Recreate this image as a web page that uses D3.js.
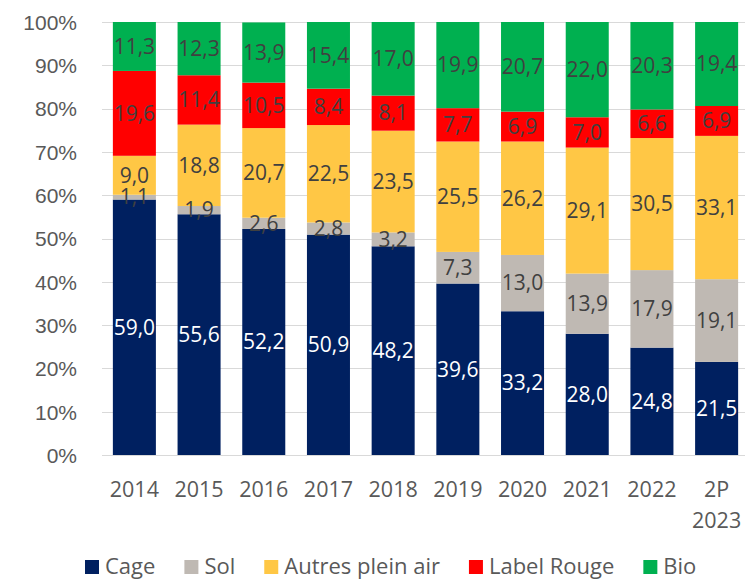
<!DOCTYPE html>
<html lang="fr">
<head>
  <meta charset="UTF-8">
  <title>Répartition des modes d'élevage</title>
  <script src="https://d3js.org/d3.v7.min.js"></script>
  <style>
    body { margin: 0; background: #fff; }
    svg { font-family: "Open Sans", "Noto Sans", sans-serif; }
    .grid line { stroke: #d9d9d9; stroke-width: 1; }
    .tick text { fill: #595959; }
  </style>
</head>
<body>
  <svg width="745" height="581"></svg>

  <script>
    // Data
    const years = ["2014", "2015", "2016", "2017", "2018", "2019", "2020", "2021", "2022", "2P 2023"];
    const series = ["Cage", "Sol", "Autres plein air", "Label Rouge", "Bio"];
    const cage = [59.0, 55.6, 52.2, 50.9, 48.2, 39.6, 33.2, 28.0, 24.8, 21.5];
    const sol = [1.1, 1.9, 2.6, 2.8, 3.2, 7.3, 13.0, 13.9, 17.9, 19.1];
    const autres = [9.0, 18.8, 20.7, 22.5, 23.5, 25.5, 26.2, 29.1, 30.5, 33.1];
    const labelRouge = [19.6, 11.4, 10.5, 8.4, 8.1, 7.7, 6.9, 7.0, 6.6, 6.9];
    const bio = [11.3, 12.3, 13.9, 15.4, 17.0, 19.9, 20.7, 22.0, 20.3, 19.4];
    const yTicks = [0, 10, 20, 30, 40, 50, 60, 70, 80, 90, 100];
    const colors = ["#002060", "#bfb9b3", "#ffc745", "#ff0000", "#00b050"];
    const labelColors = ["#ffffff", "#404040", "#404040", "#404040", "#404040"];

    const svg = d3.select("svg");

    // Build rows for the stack
    const rows = years.map((y, i) => ({
      year: y,
      "Cage": cage[i],
      "Sol": sol[i],
      "Autres plein air": autres[i],
      "Label Rouge": labelRouge[i],
      "Bio": bio[i]
    }));
    const stacked = d3.stack().keys(series)(rows);

    // Scales
    const x = d3.scaleBand()
      .domain(years)
      .range([102, 749])
      .paddingInner(0.335)
      .paddingOuter(0.168);
    const y = d3.scaleLinear().domain([0, 100]).range([455, 22]);

    // Gridlines
    svg.append("g")
      .attr("class", "grid")
      .selectAll("line")
      .data(yTicks)
      .enter().append("line")
      .attr("x1", 102)
      .attr("x2", 745)
      .attr("y1", d => Math.round(y(d)) + 0.5)
      .attr("y2", d => Math.round(y(d)) + 0.5);

    // Y axis
    const yAxis = svg.append("g")
      .attr("transform", "translate(77,0)")
      .call(d3.axisLeft(y).tickValues(yTicks).tickFormat(d => d + "%").tickSize(0).tickPadding(0));
    yAxis.select(".domain").remove();
    yAxis.selectAll("text")
      .style("font-size", "21px")
      .attr("dy", "0.35em");

    // Bars
    const layer = svg.append("g")
      .selectAll("g")
      .data(stacked)
      .enter().append("g")
      .attr("fill", (d, i) => colors[i]);

    layer.selectAll("rect")
      .data(d => d)
      .enter().append("rect")
      .attr("x", d => x(d.data.year))
      .attr("width", x.bandwidth())
      .attr("y", d => y(Math.min(d[1], 100)))
      .attr("height", d => y(d[0]) - y(Math.min(d[1], 100)));

    // Data labels
    svg.append("g")
      .selectAll("g")
      .data(stacked)
      .enter().append("g")
      .attr("fill", (d, i) => labelColors[i])
      .selectAll("text")
      .data(d => d)
      .enter().append("text")
      .attr("x", d => x(d.data.year) + x.bandwidth() / 2)
      .attr("y", d => y((d[0] + Math.min(d[1], 100)) / 2))
      .attr("dy", "0.35em")
      .attr("text-anchor", "middle")
      .style("font-size", "21px")
      .text(d => d3.format(".1f")(d[1] - d[0]).replace(".", ","));

    // X axis labels (split "2P 2023" on two lines)
    const xl = svg.append("g")
      .selectAll("text")
      .data(years)
      .enter().append("text")
      .attr("x", d => x(d) + x.bandwidth() / 2)
      .attr("y", 497)
      .attr("text-anchor", "middle")
      .attr("fill", "#595959")
      .style("font-size", "21.5px");
    xl.each(function(d) {
      const parts = d.split(" ");
      parts.forEach((p, k) => {
        d3.select(this).append("tspan")
          .attr("x", x(d) + x.bandwidth() / 2)
          .attr("dy", k === 0 ? 0 : 31)
          .text(p);
      });
    });

    // Legend
    const legend = svg.append("g").attr("transform", "translate(0,574)");
    let lx = 85;
    series.forEach((s, i) => {
      legend.append("rect")
        .attr("x", lx)
        .attr("y", -14)
        .attr("width", 14)
        .attr("height", 14)
        .attr("fill", colors[i]);
      const t = legend.append("text")
        .attr("x", lx + 20)
        .attr("y", 0)
        .attr("fill", "#595959")
        .style("font-size", "22px")
        .text(s);
      lx += 20 + t.node().getComputedTextLength() + 29;
    });
  </script>
</body>
</html>
